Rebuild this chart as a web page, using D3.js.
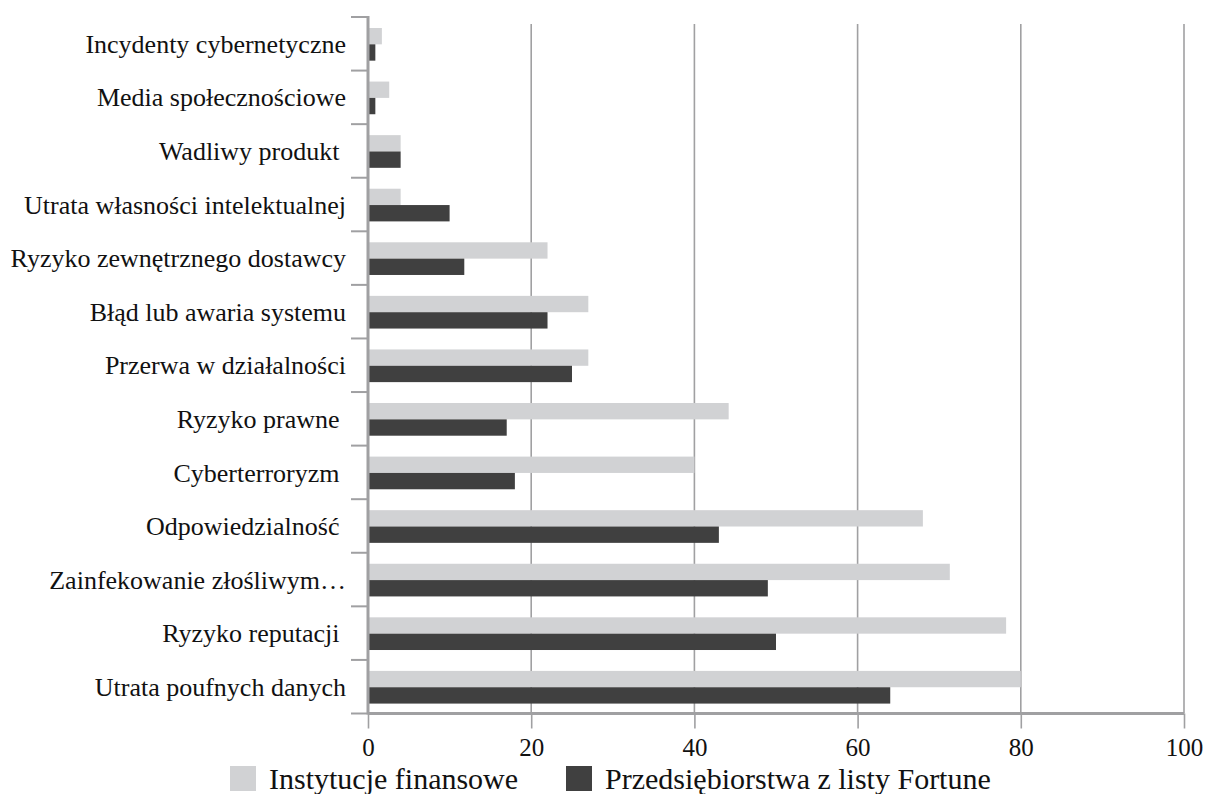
<!DOCTYPE html>
<html>
<head>
<meta charset="utf-8">
<script src="https://cdn.jsdelivr.net/npm/d3@7"></script>
<style>
  html, body { margin: 0; padding: 0; background: #fff; }
  svg { display: block; font-family: "Liberation Serif", "Times New Roman", serif; }
</style>
</head>
<body>
<script>
// Categories, top to bottom as drawn (trailing spaces kept as in the original labels)
const categories = [
  "Incydenty cybernetyczne",
  "Media społecznościowe",
  "Wadliwy produkt ",
  "Utrata własności intelektualnej",
  "Ryzyko zewnętrznego dostawcy",
  "Błąd lub awaria systemu",
  "Przerwa w działalności",
  "Ryzyko prawne ",
  "Cyberterroryzm ",
  "Odpowiedzialność ",
  "Zainfekowanie złośliwym…",
  "Ryzyko reputacji ",
  "Utrata poufnych danych"
];
const seriesNames = ["Instytucje finansowe", "Przedsiębiorstwa z listy Fortune"];
const financial = [1.7, 2.6, 4, 4, 22, 27, 27, 44.2, 40, 68, 71.3, 78.2, 80];
const fortune   = [0.9, 0.9, 4, 10, 11.8, 22, 25, 17, 18, 43, 49, 50, 64];
const xTicks = [0, 20, 40, 60, 80, 100];
const seriesColors = ["#d1d2d4", "#404040"];

const W = 1207, H = 794;
const svg = d3.select("body").append("svg").attr("width", W).attr("height", H);

const x = d3.scaleLinear().domain([0, 100]).range([368, 1184]);
const y = d3.scaleBand().domain(categories).range([17, 713.5]).padding(0);
const inner = d3.scaleBand().domain([0, 1])
  .range([y.bandwidth() * 0.205, y.bandwidth() * 0.815]).padding(0);

const axisColor = "#a0a0a2";

// gridlines
svg.append("g").selectAll("line").data(xTicks.slice(1)).join("line")
  .attr("x1", d => x(d)).attr("x2", d => x(d))
  .attr("y1", 24).attr("y2", 713.5)
  .attr("stroke", axisColor).attr("stroke-width", 1.6);

// bars
const rows = categories.map((c, i) => ({ c, vals: [financial[i], fortune[i]] }));
const g = svg.append("g").selectAll("g").data(rows).join("g")
  .attr("transform", d => `translate(0,${y(d.c)})`);
g.selectAll("rect").data(d => d.vals.map((v, k) => ({ v, k }))).join("rect")
  .attr("x", x(0))
  .attr("y", d => inner(d.k))
  .attr("width", d => x(d.v) - x(0))
  .attr("height", inner.bandwidth())
  .attr("fill", d => seriesColors[d.k]);

// category axis
const yAxis = d3.axisLeft(y).tickSize(0).tickPadding(0).tickFormat("");
const ya = svg.append("g").attr("transform", `translate(${x(0)},0)`).call(yAxis);
ya.select(".domain").remove();
const boundaries = categories.map(c => y(c)).concat([y.range()[1]]);
svg.append("g").selectAll("line").data(boundaries).join("line")
  .attr("x1", 351).attr("x2", x(0)).attr("y1", d => d).attr("y2", d => d)
  .attr("stroke", axisColor).attr("stroke-width", 2);
svg.append("g").selectAll("text").data(categories).join("text")
  .attr("x", 346)
  .attr("y", c => y(c) + y.bandwidth() / 2)
  .attr("dy", "0.35em")
  .attr("text-anchor", "end")
  .attr("font-size", 26)
  .attr("fill", "#111")
  .style("white-space", "pre")
  .text(c => c);
svg.append("line")
  .attr("x1", x(0)).attr("x2", x(0)).attr("y1", 16).attr("y2", 714.5)
  .attr("stroke", axisColor).attr("stroke-width", 3);

// value axis
const xAxis = d3.axisBottom(x).tickValues(xTicks).tickSize(15).tickPadding(10).tickFormat(d3.format("d"));
const xa = svg.append("g").attr("transform", `translate(0,713.5)`).call(xAxis);
xa.select(".domain").attr("stroke", axisColor).attr("stroke-width", 3)
  .attr("d", `M${x(0)},0H${x(100)}`);
xa.selectAll(".tick line").attr("stroke", axisColor).attr("stroke-width", 1.6);
xa.selectAll(".tick text").attr("font-size", 25).attr("fill", "#111")
  .attr("font-family", "Liberation Serif, Times New Roman, serif");

// legend
const legendX = [230, 566];
const lg = svg.append("g").selectAll("g").data(seriesNames).join("g")
  .attr("transform", (d, i) => `translate(${legendX[i]},766)`);
lg.append("rect").attr("width", 26).attr("height", 25)
  .attr("fill", (d, i) => seriesColors[i]);
lg.append("text").attr("x", 39).attr("y", 23)
  .attr("font-size", 30).attr("fill", "#111").text(d => d);
</script>
</body>
</html>
